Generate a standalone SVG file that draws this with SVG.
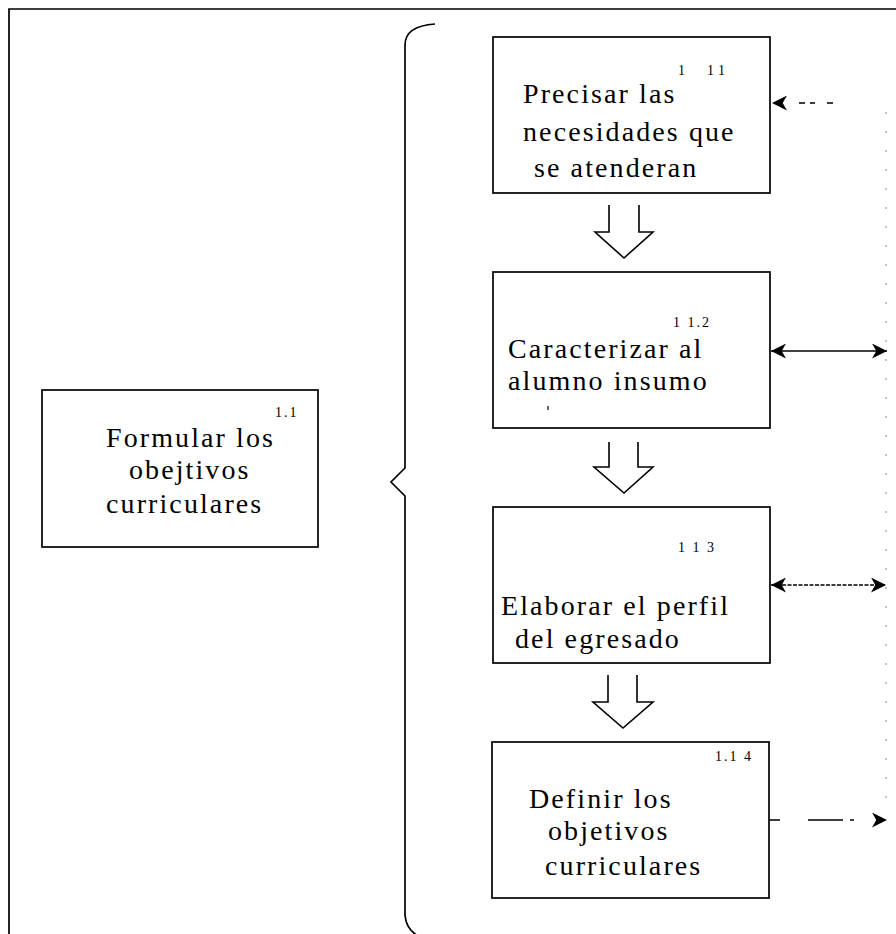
<svg xmlns="http://www.w3.org/2000/svg" width="896" height="934" viewBox="0 0 896 934">
<style>
  .box { fill: #fff; stroke: #000; stroke-width: 1.7; }
  .lbl { font-family: "Liberation Serif", "Times New Roman", serif; font-size: 28px; letter-spacing: 2.1px; fill: #000; }
  .num { font-family: "Liberation Serif", "Times New Roman", serif; font-size: 14px; letter-spacing: 2px; fill: #000; }
  .frame { fill: none; stroke: #000; stroke-width: 1.7; }
  .hollow { fill: none; stroke: #000; stroke-width: 1.6; stroke-linejoin: miter; }
  .conn { fill: none; stroke: #000; stroke-width: 1.7; }
</style>
<defs>
  <marker id="ah" viewBox="0 0 14 14" refX="14" refY="7" markerWidth="15" markerHeight="15" markerUnits="userSpaceOnUse" orient="auto-start-reverse">
    <path d="M0,0 L14,7 L0,14 L4,7 z" fill="#000"/>
  </marker>
</defs>
<rect width="896" height="934" fill="#fff"/>

<g id="frame">
  <path class="frame" d="M9,934 L9,9 L896,9"/>
  <path class="frame" d="M435,24 Q405,26 405,45 L405,468 L391,482 L405,496 L405,915 Q406,929 418,936"/>
  <line x1="886" y1="112" x2="886" y2="800" stroke="#9a9a9a" stroke-width="1.2" stroke-dasharray="2 17"/>
</g>

<g id="n1_1">
  <rect class="box" x="42" y="390" width="276" height="157"/>
  <text class="num" x="275" y="417">1.1</text>
  <text class="lbl" x="106" y="447">Formular los</text>
  <text class="lbl" x="129" y="479">obejtivos</text>
  <text class="lbl" x="106" y="513">curriculares</text>
</g>

<g id="n1_1_1">
  <rect class="box" x="493" y="37" width="277" height="156"/>
  <text class="num" x="678 688 707 718" y="75">1 11</text>
  <text class="lbl" x="523" y="103">Precisar las</text>
  <text class="lbl" x="523" y="141">necesidades que</text>
  <text class="lbl" x="534" y="177">se atenderan</text>
</g>

<g id="n1_1_2">
  <rect class="box" x="493" y="272" width="277" height="156"/>
  <text class="num" x="673" y="327">1 1.2</text>
  <text class="lbl" x="508" y="358">Caracterizar al</text>
  <text class="lbl" x="508" y="390">alumno insumo</text>
  <line x1="548" y1="406" x2="548" y2="410" stroke="#000" stroke-width="1.2"/>
</g>

<g id="n1_1_3">
  <rect class="box" x="493" y="507" width="277" height="156"/>
  <text class="num" x="678" y="552">1 1 3</text>
  <text class="lbl" x="501" y="615">Elaborar el perfil</text>
  <text class="lbl" x="515" y="648">del egresado</text>
</g>

<g id="n1_1_4">
  <rect class="box" x="492" y="742" width="277" height="156"/>
  <text class="num" x="715" y="761">1.1 4</text>
  <text class="lbl" x="529" y="808">Definir los</text>
  <text class="lbl" x="548" y="840">objetivos</text>
  <text class="lbl" x="545" y="875">curriculares</text>
</g>

<g id="connectors">
  <polyline class="hollow" points="609,205 609,232 595,232 624,258 653,232 639,232 639,205"/>
  <polyline class="hollow" points="609,442 609,467 594,467 624,493 653,467 638,467 638,442"/>
  <polyline class="hollow" points="608,675 608,702 593,702 623,728 653,702 637,702 637,675"/>
  <line class="conn" x1="833" y1="103" x2="772" y2="103" stroke-dasharray="6 12 5 5 6 100" marker-end="url(#ah)"/>
  <line class="conn" x1="771" y1="351" x2="887" y2="351" marker-start="url(#ah)" marker-end="url(#ah)"/>
  <line class="conn" x1="771" y1="585" x2="886" y2="585" stroke-width="1.3" stroke-dasharray="4 1.5" marker-start="url(#ah)" marker-end="url(#ah)"/>
  <line class="conn" x1="769" y1="820" x2="887" y2="820" stroke-width="1.3" stroke-dasharray="11 28 35 7 4 40" marker-end="url(#ah)"/>
</g>
</svg>
